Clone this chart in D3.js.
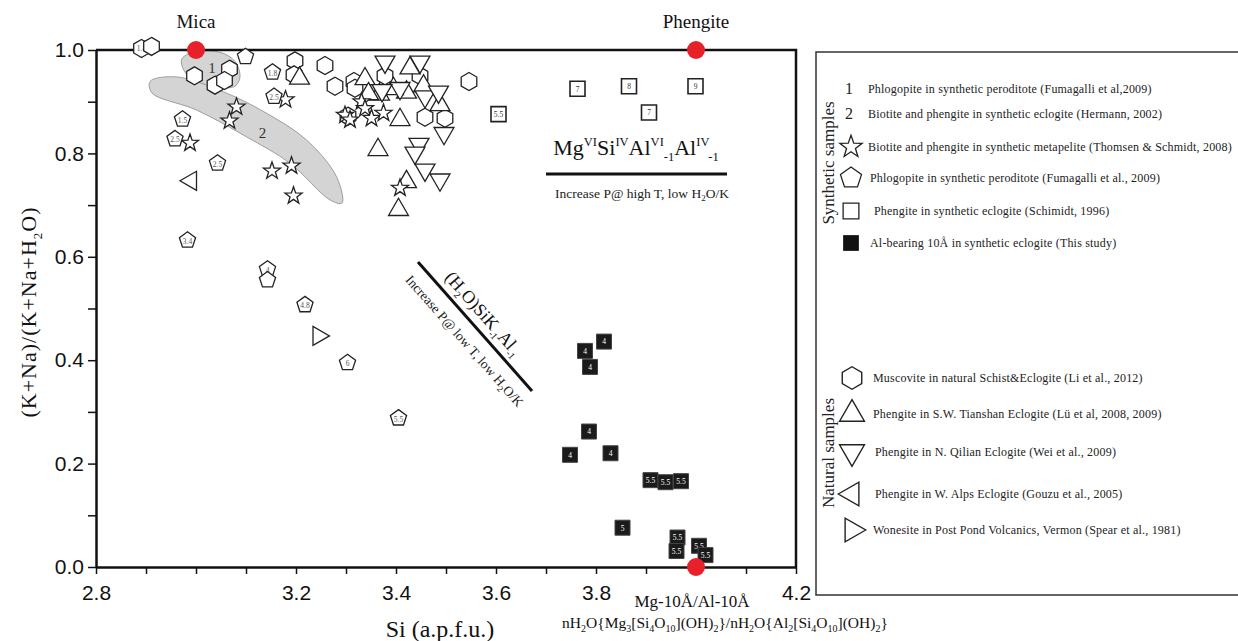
<!DOCTYPE html>
<html>
<head>
<meta charset="utf-8">
<script src="https://cdn.jsdelivr.net/npm/d3@7"></script>
<style>
  body { margin: 0; background: #fff; }
  svg { display: block; }
</style>
</head>
<body>
<div id="vis"></div>
<script>
// ---- data: [Si, (K+Na)/(K+Na+H2O)] ----
var endMembers = [[3.0, 1.0], [4.0, 1.0], [4.0, 0.0]];

var muscovite = [[2.891, 1.003], [2.911, 1.007], [2.997, 0.950], [3.067, 0.963], [3.038, 0.932],
  [3.057, 0.941], [3.198, 0.979], [3.196, 0.952], [3.258, 0.970], [3.278, 0.930], [3.316, 0.939],
  [3.318, 0.926], [3.378, 0.950], [3.448, 0.950], [3.546, 0.939], [3.458, 0.870], [3.498, 0.868],
  [3.304, 0.872]];
var muscoviteLabels = ['1.8'];

var tianshan = [[3.207, 0.945], [3.338, 0.944], [3.428, 0.965], [3.367, 0.914], [3.421, 0.918],
  [3.395, 0.925], [3.488, 0.894], [3.408, 0.865], [3.364, 0.807], [3.421, 0.745], [3.405, 0.691],
  [3.345, 0.915], [3.455, 0.930]];

var qilian = [[3.378, 0.977], [3.448, 0.977], [3.408, 0.926], [3.458, 0.910], [3.485, 0.919],
  [3.496, 0.839], [3.446, 0.818], [3.438, 0.801], [3.458, 0.768], [3.488, 0.749], [3.372, 0.922]];

var metapelite = [[3.081, 0.890], [3.067, 0.863], [2.988, 0.820], [3.152, 0.766], [3.191, 0.776],
  [3.195, 0.718], [3.179, 0.904], [3.298, 0.874], [3.308, 0.865], [3.331, 0.900], [3.338, 0.887],
  [3.351, 0.868], [3.375, 0.878], [3.408, 0.733]];

var phlogopite = [[3.099, 0.987], [3.153, 0.957], [3.156, 0.910], [2.973, 0.866], [2.958, 0.828],
  [3.043, 0.781], [2.983, 0.632], [3.143, 0.576], [3.143, 0.555], [3.218, 0.507], [3.303, 0.395],
  [3.405, 0.288]];
var phlogopiteLabels = ['', '1.8', '2.5', '1.5', '2.5', '2.5', '3.4', '4', '', '4.8', '6', '5.5'];

var alps = [[2.990, 0.747]];
var wonesite = [[3.245, 0.447]];

var schmidt = [[3.763, 0.925], [3.866, 0.930], [3.999, 0.930], [3.906, 0.879], [3.605, 0.876]];
var schmidtLabels = ['7', '8', '9', '7', '5.5'];

var thisStudy = [[3.816, 0.436], [3.778, 0.418], [3.788, 0.387], [3.786, 0.262], [3.748, 0.217],
  [3.829, 0.220], [3.909, 0.168], [3.939, 0.164], [3.970, 0.166], [3.853, 0.076], [3.963, 0.057],
  [3.961, 0.031], [4.006, 0.041], [4.019, 0.023]];
var thisStudyLabels = ['4', '4', '4', '4', '4', '4', '5.5', '5.5', '5.5', '5', '5.5', '5.5', '5.5', '5.5'];

// outlines of the two shaded fields
var field1 = [[2.972, 0.983], [3.001, 0.997], [3.050, 0.995], [3.078, 0.978], [3.088, 0.948],
  [3.078, 0.930], [3.041, 0.928], [3.001, 0.938], [2.976, 0.960]];
var field2 = [[2.908, 0.939], [2.961, 0.948], [3.055, 0.919], [3.135, 0.881], [3.221, 0.826],
  [3.281, 0.755], [3.292, 0.704], [3.268, 0.710], [3.188, 0.781], [3.101, 0.832], [3.001, 0.884],
  [2.912, 0.917]];

var xTickLabels = ['2.8', '3.2', '3.4', '3.6', '3.8', '4.2'];
var yTickLabels = ['0.0', '0.2', '0.4', '0.6', '0.8', '1.0'];

var syntheticLegend = ['Phlogopite in synthetic peroditote (Fumagalli et al,2009)',
  'Biotite and phengite in synthetic eclogite (Hermann, 2002)',
  'Biotite and phengite in synthetic metapelite (Thomsen & Schmidt, 2008)',
  'Phlogopite in synthetic peroditote (Fumagalli et al., 2009)',
  'Phengite in synthetic eclogite (Schimidt, 1996)',
  'Al-bearing 10Å in synthetic eclogite (This study)'];
var naturalLegend = ['Muscovite in natural Schist&Eclogite (Li et al., 2012)',
  'Phengite in S.W. Tianshan Eclogite (Lü et al, 2008, 2009)',
  'Phengite in N. Qilian Eclogite (Wei et al., 2009)',
  'Phengite in W. Alps Eclogite (Gouzu et al., 2005)',
  'Wonesite in Post Pond Volcanics, Vermon (Spear et al., 1981)'];

// ---- setup ----
var width = 1238;
var height = 641;
var serif = '"Liberation Serif", "Times New Roman", serif';
var sans = '"Liberation Sans", Arial, sans-serif';

var x = d3.scaleLinear().domain([2.8, 4.2]).range([96, 796]);
var y = d3.scaleLinear().domain([0, 1]).range([567, 50]);

var svg = d3.select('#vis').append('svg')
  .attr('width', width)
  .attr('height', height)
  .style('background', '#fff');

function polyPath(n, r, startDeg) {
  var pts = d3.range(n).map(function (i) {
    var a = (startDeg + i * 360 / n) * Math.PI / 180;
    return [r * Math.cos(a), r * Math.sin(a)];
  });
  return 'M' + pts.join('L') + 'Z';
}

function starPath(r) {
  var pts = d3.range(10).map(function (i) {
    var a = (-90 + i * 36) * Math.PI / 180;
    var rr = i % 2 === 0 ? r : r * 0.4;
    return [rr * Math.cos(a), rr * Math.sin(a)];
  });
  return 'M' + pts.join('L') + 'Z';
}

function squarePath(s) {
  var h = s / 2;
  return 'M' + -h + ',' + -h + 'H' + h + 'V' + h + 'H' + -h + 'Z';
}

function shape(type, k) {
  k = k || 1;
  if (type === 'hex') return polyPath(6, 9 * k, -90);
  if (type === 'pent') return polyPath(5, 8.5 * k, -90);
  if (type === 'up') return polyPath(3, 11.5 * k, -90);
  if (type === 'down') return polyPath(3, 11.5 * k, 90);
  if (type === 'left') return polyPath(3, 11 * k, 180);
  if (type === 'right') return polyPath(3, 11 * k, 0);
  if (type === 'star') return starPath(9 * k);
  if (type === 'square') return squarePath(15 * k);
}

// rich text with sup/sub parts
function richText(sel, parts, base, small) {
  var offset = 0;
  parts.forEach(function (p) {
    var target = p[1] === 'sup' ? -base * 0.42 : p[1] === 'sub' ? base * 0.25 : 0;
    sel.append('tspan')
      .attr('dy', target - offset)
      .attr('font-size', p[1] ? small : base)
      .text(p[0]);
    offset = target;
  });
}

// ---- shaded fields ----
var fieldLine = d3.line()
  .x(function (d) { return x(d[0]); })
  .y(function (d) { return y(d[1]); })
  .curve(d3.curveCatmullRomClosed.alpha(0.5));

svg.selectAll('.field')
  .data([field1, field2])
  .enter()
  .append('path')
  .attr('class', 'field')
  .attr('d', fieldLine)
  .attr('fill', '#d4d4d4')
  .attr('stroke', '#8a8a8a')
  .attr('stroke-width', 0.8);

svg.append('text').attr('x', x(3.032)).attr('y', y(0.955)).attr('text-anchor', 'middle')
  .attr('font-family', serif).attr('font-size', 15).attr('fill', '#333').text('1');
svg.append('text').attr('x', x(3.133)).attr('y', y(0.83)).attr('text-anchor', 'middle')
  .attr('font-family', serif).attr('font-size', 15).attr('fill', '#333').text('2');

// ---- axes ----
var xAxis = d3.axisBottom(x)
  .tickValues(d3.range(28, 43).map(function (d) { return d / 10; }))
  .tickSize(7)
  .tickSizeOuter(0)
  .tickFormat(function (d) {
    var s = d.toFixed(1);
    return xTickLabels.indexOf(s) >= 0 ? s : '';
  });

var yAxis = d3.axisLeft(y)
  .tickValues(d3.range(0, 11).map(function (d) { return d / 10; }))
  .tickSize(8)
  .tickSizeOuter(0)
  .tickFormat(function (d) {
    var s = d.toFixed(1);
    return yTickLabels.indexOf(s) >= 0 ? s : '';
  });

var gx = svg.append('g').attr('transform', 'translate(0,' + y(0) + ')').call(xAxis);
var gy = svg.append('g').attr('transform', 'translate(' + x(2.8) + ',0)').call(yAxis);

[gx, gy].forEach(function (g) {
  g.select('.domain').attr('stroke', '#111').attr('stroke-width', 2.5);
  g.selectAll('.tick line').attr('stroke', '#111').attr('stroke-width', 1.5);
  g.selectAll('.tick text')
    .attr('font-family', sans)
    .attr('font-size', 21)
    .attr('fill', '#111');
});
gx.selectAll('.tick text').attr('dy', '1.1em');
gy.selectAll('.tick text').attr('dx', '-0.05em');

// frame: top and right
svg.append('path')
  .attr('d', 'M' + x(2.8) + ',' + y(1) + 'H' + x(4.2) + 'V' + y(0))
  .attr('fill', 'none')
  .attr('stroke', '#111')
  .attr('stroke-width', 2.5);

// ---- axis titles ----
svg.append('text')
  .attr('x', 440).attr('y', 637)
  .attr('text-anchor', 'middle')
  .attr('font-family', serif).attr('font-size', 24).attr('fill', '#111')
  .text('Si (a.p.f.u.)');

var yTitle = svg.append('text')
  .attr('transform', 'translate(36,312) rotate(-90)')
  .attr('text-anchor', 'middle')
  .attr('font-family', serif).attr('fill', '#111')
  .attr('letter-spacing', 1);
richText(yTitle, [['(K+Na)/(K+Na+H', ''], ['2', 'sub'], ['O)', '']], 22, 13);

svg.append('text')
  .attr('x', 692).attr('y', 607)
  .attr('text-anchor', 'middle')
  .attr('font-family', serif).attr('font-size', 17).attr('fill', '#111')
  .text('Mg-10Å/Al-10Å');

var formula = svg.append('text')
  .attr('x', 725).attr('y', 628)
  .attr('text-anchor', 'middle')
  .attr('font-family', serif).attr('fill', '#111');
richText(formula, [['nH', ''], ['2', 'sub'], ['O{Mg', ''], ['3', 'sub'], ['[Si', ''], ['4', 'sub'],
  ['O', ''], ['10', 'sub'], ['](OH)', ''], ['2', 'sub'], ['}/nH', ''], ['2', 'sub'], ['O{Al', ''],
  ['2', 'sub'], ['[Si', ''], ['4', 'sub'], ['O', ''], ['10', 'sub'], ['](OH)', ''], ['2', 'sub'], ['}', '']], 15.5, 10);

svg.append('text').attr('x', x(3.0)).attr('y', 28).attr('text-anchor', 'middle')
  .attr('font-family', serif).attr('font-size', 19).attr('fill', '#111').text('Mica');
svg.append('text').attr('x', x(4.0)).attr('y', 28).attr('text-anchor', 'middle')
  .attr('font-family', serif).attr('font-size', 19).attr('fill', '#111').text('Phengite');

// ---- substitution annotations ----
var mgText = svg.append('text')
  .attr('x', 636).attr('y', 155)
  .attr('text-anchor', 'middle')
  .attr('font-family', serif).attr('fill', '#111');
richText(mgText, [['Mg', ''], ['VI', 'sup'], ['Si', ''], ['IV', 'sup'], ['Al', ''], ['VI', 'sup'],
  ['-1', 'sub'], ['Al', ''], ['IV', 'sup'], ['-1', 'sub']], 22, 12.5);

svg.append('line')
  .attr('x1', 546).attr('y1', 174).attr('x2', 727).attr('y2', 174)
  .attr('stroke', '#111').attr('stroke-width', 3);

var incHigh = svg.append('text')
  .attr('x', 642).attr('y', 198)
  .attr('text-anchor', 'middle')
  .attr('font-family', serif).attr('fill', '#222');
richText(incHigh, [['Increase P@ high T, low H', ''], ['2', 'sub'], ['O/K', '']], 13.5, 9);

var ax1 = 418, ay1 = 262, ax2 = 532, ay2 = 391;
var ang = Math.atan2(ay2 - ay1, ax2 - ax1) * 180 / Math.PI;
svg.append('line')
  .attr('x1', ax1).attr('y1', ay1).attr('x2', ax2).attr('y2', ay2)
  .attr('stroke', '#111').attr('stroke-width', 3);

var diag = svg.append('g')
  .attr('transform', 'translate(' + (ax1 + ax2) / 2 + ',' + (ay1 + ay2) / 2 + ') rotate(' + ang + ')');

var h2oText = diag.append('text')
  .attr('x', -4).attr('y', -9)
  .attr('text-anchor', 'middle')
  .attr('font-family', serif).attr('fill', '#111');
richText(h2oText, [['(H', ''], ['2', 'sub'], ['O)SiK', ''], ['-1', 'sub'], ['Al', ''], ['-1', 'sub']], 18, 10);

var incLow = diag.append('text')
  .attr('x', 4).attr('y', 22)
  .attr('text-anchor', 'middle')
  .attr('font-family', serif).attr('fill', '#222');
richText(incLow, [['Increase P@ low T, low H', ''], ['2', 'sub'], ['O/K', '']], 13.5, 9);

// ---- marker series ----
function drawSeries(data, type, labels, opts) {
  opts = opts || {};
  var g = svg.append('g');
  var pts = g.selectAll('g').data(data).enter().append('g')
    .attr('transform', function (d) { return 'translate(' + x(d[0]) + ',' + y(d[1]) + ')'; });
  pts.append('path')
    .attr('d', shape(type))
    .attr('fill', opts.fill || '#fff')
    .attr('stroke', opts.stroke || '#222')
    .attr('stroke-width', opts.strokeWidth || 1.3)
    .attr('stroke-linejoin', 'miter');
  if (labels) {
    pts.append('text')
      .attr('text-anchor', 'middle')
      .attr('dy', type === 'pent' ? 3.5 : 2.8)
      .attr('font-family', serif)
      .attr('font-size', 7.5)
      .attr('fill', opts.textFill || '#555')
      .text(function (d, i) { return labels[i] || ''; });
  }
}

drawSeries(muscovite, 'hex', muscoviteLabels);
drawSeries(tianshan, 'up');
drawSeries(qilian, 'down');
drawSeries(metapelite, 'star');
drawSeries(phlogopite, 'pent', phlogopiteLabels);
drawSeries(alps, 'left');
drawSeries(wonesite, 'right');
drawSeries(schmidt, 'square', schmidtLabels, { strokeWidth: 1.6, textFill: '#333' });
drawSeries(thisStudy, 'square', thisStudyLabels, { fill: '#1b1b1b', stroke: '#444', strokeWidth: 1, textFill: '#fff' });

svg.selectAll('.endmember')
  .data(endMembers)
  .enter()
  .append('circle')
  .attr('class', 'endmember')
  .attr('cx', function (d) { return x(d[0]); })
  .attr('cy', function (d) { return y(d[1]); })
  .attr('r', 9)
  .attr('fill', '#e8202a');

// ---- legend ----
var legend = svg.append('g');
legend.append('rect')
  .attr('x', 816).attr('y', 52)
  .attr('width', 440).attr('height', 543)
  .attr('fill', 'none')
  .attr('stroke', '#333')
  .attr('stroke-width', 1.5);

legend.append('text')
  .attr('transform', 'translate(834,163) rotate(-90)')
  .attr('text-anchor', 'middle')
  .attr('font-family', serif).attr('font-size', 17).attr('fill', '#222')
  .text('Synthetic samples');
legend.append('text')
  .attr('transform', 'translate(834,453) rotate(-90)')
  .attr('text-anchor', 'middle')
  .attr('font-family', serif).attr('font-size', 17).attr('fill', '#222')
  .text('Natural samples');

var synY = [89, 114, 147, 178, 211, 243];
var synX = [868, 868, 868, 870, 874, 870];
var synSym = ['1', '2', 'star', 'pent', 'square', 'filled'];

legend.selectAll('.syn')
  .data(syntheticLegend)
  .enter()
  .append('text')
  .attr('class', 'syn')
  .attr('x', function (d, i) { return synX[i]; })
  .attr('y', function (d, i) { return synY[i] + 4; })
  .attr('font-family', serif).attr('font-size', 12).attr('letter-spacing', 0.2).attr('fill', '#222')
  .text(function (d) { return d; });

synSym.forEach(function (s, i) {
  var cy = synY[i];
  if (s === '1' || s === '2') {
    legend.append('text').attr('x', 849).attr('y', cy + 5).attr('text-anchor', 'middle')
      .attr('font-family', serif).attr('font-size', 16).attr('fill', '#222').text(s);
  } else if (s === 'filled') {
    legend.append('path').attr('transform', 'translate(851,' + cy + ')')
      .attr('d', shape('square', 1.05)).attr('fill', '#111');
  } else {
    legend.append('path').attr('transform', 'translate(851,' + cy + ')')
      .attr('d', shape(s, s === 'square' ? 1.05 : 1.3))
      .attr('fill', '#fff').attr('stroke', '#222').attr('stroke-width', 1.3);
  }
});

var natY = [378, 414, 452, 494, 530];
var natX = [873, 873, 875, 875, 873];
var natSym = ['hex', 'up', 'down', 'left', 'right'];

legend.selectAll('.nat')
  .data(naturalLegend)
  .enter()
  .append('text')
  .attr('class', 'nat')
  .attr('x', function (d, i) { return natX[i]; })
  .attr('y', function (d, i) { return natY[i] + 4; })
  .attr('font-family', serif).attr('font-size', 12).attr('letter-spacing', 0.2).attr('fill', '#222')
  .text(function (d) { return d; });

natSym.forEach(function (s, i) {
  legend.append('path').attr('transform', 'translate(852,' + natY[i] + ')')
    .attr('d', shape(s, 1.25))
    .attr('fill', '#fff').attr('stroke', '#222').attr('stroke-width', 1.4);
});
</script>
</body>
</html>
